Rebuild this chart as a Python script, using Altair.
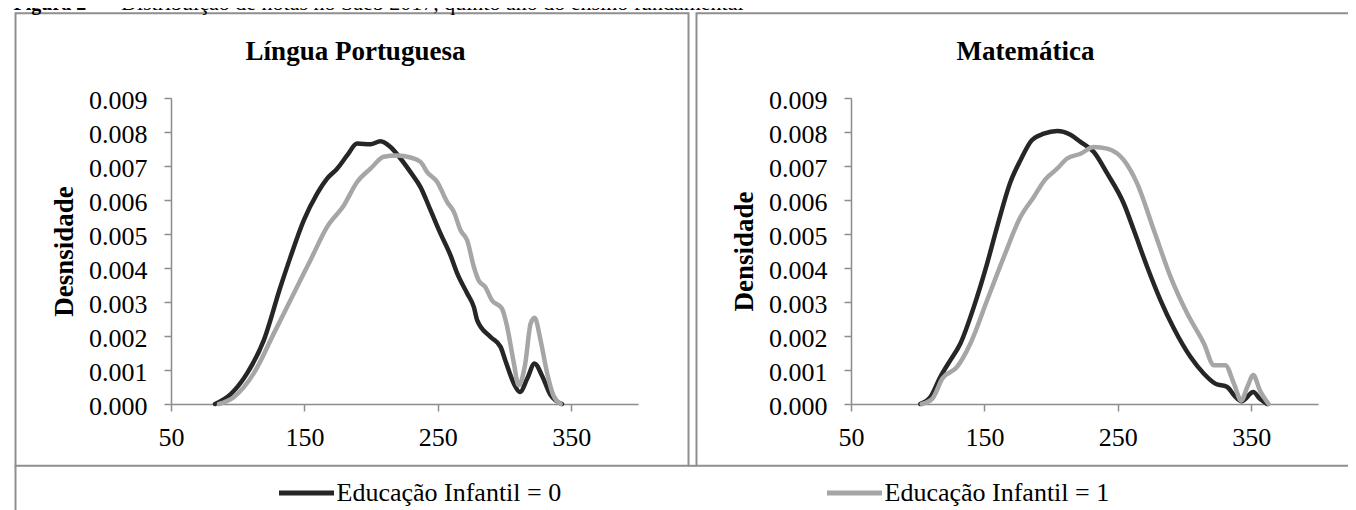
import altair as alt
import pandas as pd

# ---------------- data ----------------
SERIES = ["Educação Infantil = 0", "Educação Infantil = 1"]
COLORS = ["#262626", "#a6a6a6"]
X_TICKS = [50, 150, 250, 350]
Y_TICKS = [0.000, 0.001, 0.002, 0.003, 0.004, 0.005, 0.006, 0.007, 0.008, 0.009]

# Língua Portuguesa, Educação Infantil = 0
lp0_score = [83, 95, 107, 119.5, 132, 139.5, 149.5, 159.5, 167, 174.5, 182, 189.5, 199.5, 207,
             214.5, 222, 229.5, 237, 244.5, 252, 259.5, 264.5, 272, 277, 279.5, 289.5, 297,
             300.5, 307, 311.5, 317, 322.5, 328, 334.5, 343]
lp0_dens = [0, 0.0003, 0.0009, 0.00187, 0.00344, 0.00432, 0.0054, 0.00619, 0.00663, 0.00692,
            0.00731, 0.00766, 0.00764, 0.00773, 0.00756, 0.00722, 0.00682, 0.00638, 0.0057,
            0.00501, 0.00437, 0.00384, 0.00325, 0.00285, 0.00246, 0.00197, 0.00168, 0.00129,
            0.0006, 0.00035, 0.00075, 0.00119, 0.00084, 0.00026, 0]

# Língua Portuguesa, Educação Infantil = 1
lp1_score = [86, 97, 112, 127, 142, 154.5, 167, 179.5, 189.5, 199.5, 209.5, 219.5, 229.5, 237,
             242, 249.5, 257, 262, 267, 272, 277, 280.5, 285.5, 290.5, 298, 302, 307, 310.5,
             315.5, 319.5, 322.5, 327, 332, 336.5, 342]
lp1_dens = [0, 0.0002, 0.0009, 0.00207, 0.00325, 0.00423, 0.00521, 0.00584, 0.00653, 0.00692,
            0.00727, 0.00731, 0.00725, 0.00712, 0.00682, 0.00653, 0.00594, 0.00565, 0.00511,
            0.00481, 0.00403, 0.00364, 0.00344, 0.00305, 0.00281, 0.00226, 0.00119, 0.00055,
            0.00119, 0.00236, 0.00254, 0.00187, 0.00089, 0.00026, 0]

# Matemática, Educação Infantil = 0
mt0_score = [102, 109.5, 117, 124.5, 132, 142, 152, 159.5, 169.5, 177, 185.5, 194.5, 204.5,
             214.5, 222, 232, 242, 254.5, 262, 272, 282, 292, 304.5, 314.5, 323, 332, 337,
             343, 351.5, 356.5, 362]
mt0_dens = [0, 0.0002, 0.0008, 0.00129, 0.00178, 0.00285, 0.00413, 0.00521, 0.00653, 0.00717,
            0.00776, 0.00795, 0.00803, 0.00792, 0.00771, 0.00741, 0.00678, 0.00589, 0.00511,
            0.00403, 0.00305, 0.00222, 0.00138, 0.00089, 0.0006, 0.0005, 0.00026, 0.00008,
            0.00035, 0.00015, 0]

# Matemática, Educação Infantil = 1
mt1_score = [103, 111, 118.5, 129.5, 139.5, 152, 164.5, 177, 187, 195.5, 204.5, 212, 222, 232,
             242, 254.5, 264.5, 277, 289.5, 302, 314.5, 322, 330.5, 337, 342.5, 347, 351.5,
             356.5, 363]
mt1_dens = [0, 0.00016, 0.00075, 0.00109, 0.00178, 0.00305, 0.00432, 0.0055, 0.00609, 0.0066,
            0.00692, 0.00722, 0.00736, 0.00756, 0.00751, 0.00717, 0.00648, 0.00511, 0.00374,
            0.00266, 0.00178, 0.00114, 0.00114, 0.0006, 0.0001, 0.0005, 0.00085, 0.0004, 0]

FIG_BOLD = "Figura 2"
FIG_REST = "– Distribuição de notas no Saeb 2017, quinto ano do ensino fundamental"


def frame(s0, d0, s1, d1):
    rows = []
    for s, d in zip(s0, d0):
        rows.append({"score": s, "dens": d, "serie": SERIES[0], "o": 0})
    for s, d in zip(s1, d1):
        rows.append({"score": s, "dens": d, "serie": SERIES[1], "o": 1})
    return pd.DataFrame(rows)


FONT = "Liberation Serif"
W, H = 467, 306
BORDER = "#8f8f8f"
one = pd.DataFrame({"k": [0]})


def panel(df, title, title_x, ytitle, rect_x1, rect_x2, extra=()):
    lines = alt.Chart(df).mark_line(
        strokeWidth=4.5, strokeCap="round", strokeJoin="round", interpolate="monotone"
    ).encode(
        x=alt.X("score:Q", scale=alt.Scale(domain=[50, 400], nice=False, zero=False),
                axis=alt.Axis(values=X_TICKS, title=None, labelPadding=13, labelFlush=False,
                              format="d")),
        y=alt.Y("dens:Q", scale=alt.Scale(domain=[0, 0.009], nice=False),
                axis=alt.Axis(values=Y_TICKS, format=".3f", title=ytitle, labelPadding=17,
                              labelOffset=2, titleX=-92.5, titleY=153)),
        color=alt.Color("serie:N", scale=alt.Scale(domain=SERIES, range=COLORS),
                        legend=alt.Legend(orient="none", legendX=105.5, legendY=365,
                                          direction="horizontal", title=None,
                                          symbolType="stroke", symbolSize=3025,
                                          symbolStrokeWidth=5, labelFont=FONT,
                                          labelFontSize=26, labelColor="black",
                                          labelOffset=0, columnPadding=255,
                                          labelLimit=500)),
        detail="serie:N",
        order="o:Q",
    )
    rect = alt.Chart(one).mark_rect(fillOpacity=0, stroke=BORDER, strokeWidth=2).encode(
        x=alt.value(rect_x1), x2=alt.value(rect_x2),
        y=alt.value(-84.7), y2=alt.value(367.8),
    )
    ttl = alt.Chart(one).mark_text(
        text=title, font=FONT, fontSize=27, fontWeight="bold", align="center",
        baseline="alphabetic", color="black"
    ).encode(x=alt.value(title_x), y=alt.value(-37.7))
    return alt.layer(rect, *extra, lines, ttl).properties(width=W, height=H)


left_extra = [
    alt.Chart(one).mark_rule(stroke=BORDER, strokeWidth=2).encode(
        x=alt.value(-155.5), y=alt.value(367.8), y2=alt.value(445)),
    alt.Chart(one).mark_rule(stroke=BORDER, strokeWidth=2).encode(
        x=alt.value(517.5), x2=alt.value(525.5), y=alt.value(367.8)),
    alt.Chart(one).mark_text(text=FIG_BOLD, font=FONT, fontSize=20, fontWeight="bold",
                             align="left", baseline="alphabetic", color="black").encode(
        x=alt.value(13 - 170.5), y=alt.value(10 - 97.7)),
    alt.Chart(one).mark_text(text=FIG_REST, font=FONT, fontSize=22, align="left",
                             baseline="alphabetic", color="black").encode(
        x=alt.value(104 - 170.5), y=alt.value(10 - 97.7)),
]

left = panel(frame(lp0_score, lp0_dens, lp1_score, lp1_dens), "Língua Portuguesa", 184.5,
             "Desnsidade", -155.5, 517.5, left_extra)
right = panel(frame(mt0_score, mt0_dens, mt1_score, mt1_dens), "Matemática", 174.5,
              "Densidade", -154.5, 519.5)

chart = alt.hconcat(left, right, spacing=213, bounds="flush").properties(
    padding={"left": 5, "top": -16, "right": -24, "bottom": -32}
).configure_view(strokeWidth=0).configure_axis(
    domainColor="#8c8c8c", tickColor="#8c8c8c", domainWidth=1.5, tickWidth=1.5, tickSize=7,
    labelFont=FONT, labelFontSize=26, labelColor="black", grid=False,
    titleFont=FONT, titleFontSize=27, titleFontWeight="bold", titleColor="black",
).configure_legend(
    labelFont=FONT, labelFontSize=26, labelColor="black",
).configure_text(font=FONT)

chart.save("out.html", embed_options={"renderer": "svg", "actions": False})
